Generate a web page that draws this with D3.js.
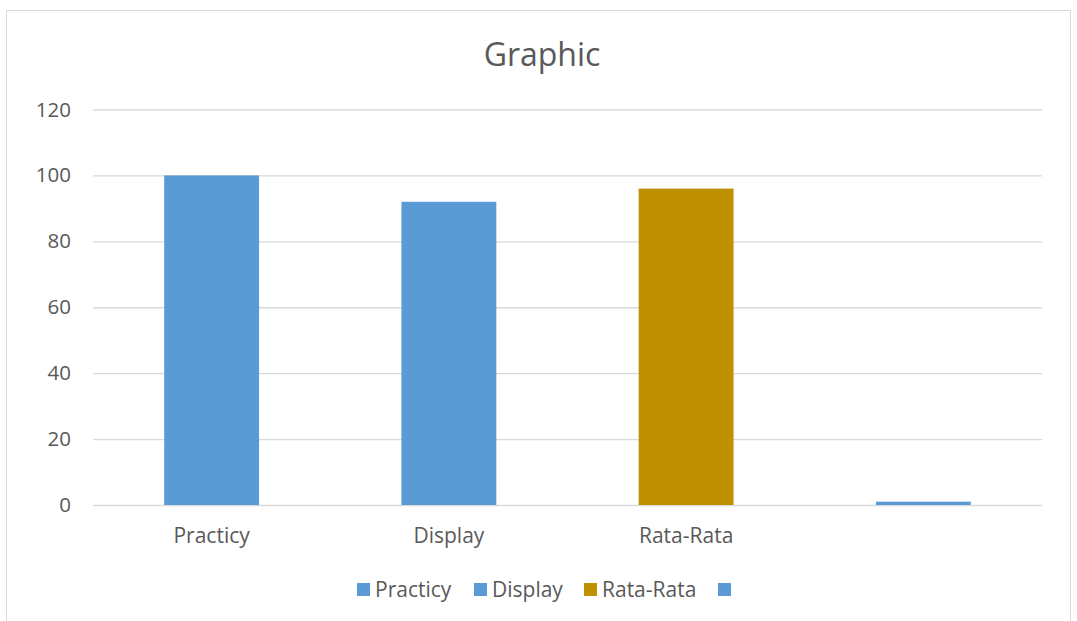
<!DOCTYPE html>
<html>
<head>
<meta charset="utf-8">
<script src="https://cdn.jsdelivr.net/npm/d3@7"></script>
<style>
  html, body { margin: 0; padding: 0; background: #fff; }
  svg { display: block; font-family: "Open Sans", "Noto Sans", sans-serif; }
</style>
</head>
<body>
<svg id="chart" width="1077" height="621"></svg>
<script>
// Chart data
const categories = ["Practicy", "Display", "Rata-Rata", ""];
const values = [100, 92, 96, 1];
const barColors = ["#5B9BD5", "#5B9BD5", "#BF9000", "#5B9BD5"];
const yTicks = [0, 20, 40, 60, 80, 100, 120];
const chartTitle = "Graphic";

const margin = { left: 93, right: 35, top: 109, bottom: 116 };
const svg = d3.select("#chart");
const textColor = "#595959";

// Chart-area frame
svg.append("rect")
  .attr("x", 6.5).attr("y", 10.5)
  .attr("width", 1064).attr("height", 620)
  .attr("fill", "#fff").attr("stroke", "#d9d9d9").attr("stroke-width", 1);

const x = d3.scaleBand()
  .domain(d3.range(categories.length))
  .range([margin.left, 1042])
  .paddingInner(0.6).paddingOuter(0.3);

const y = d3.scaleLinear().domain([0, 120]).range([505, 109.5]);

// Title
svg.append("text")
  .attr("x", 542).attr("y", 66)
  .attr("text-anchor", "middle")
  .attr("fill", textColor)
  .attr("font-size", 32)
  .text(chartTitle);

// Gridlines + y labels
const yAxis = d3.axisLeft(y).tickValues(yTicks).tickSize(-(1042 - margin.left)).tickPadding(22);
const gy = svg.append("g").attr("transform", `translate(${margin.left},0)`).call(yAxis);
gy.select(".domain").remove();
gy.selectAll(".tick line").attr("stroke", "#d9d9d9").attr("stroke-width", 1.3);
gy.selectAll(".tick text").attr("fill", textColor).attr("font-size", 20.5).attr("font-family", "Open Sans");

// Bars
svg.append("g").selectAll("rect")
  .data(values)
  .join("rect")
  .attr("x", (d, i) => x(i))
  .attr("width", x.bandwidth())
  .attr("y", d => y(d))
  .attr("height", d => y(0) - y(d))
  .attr("fill", (d, i) => barColors[i]);

// X category labels
const xAxis = d3.axisBottom(x).tickFormat(i => categories[i]).tickSize(0).tickPadding(23);
const gx = svg.append("g").attr("transform", `translate(0,${y(0)})`).call(xAxis);
gx.select(".domain").remove();
gx.selectAll(".tick text").attr("fill", textColor).attr("font-size", 21).attr("font-family", "Open Sans");

// Legend
const legendX = [357, 474, 584, 718];
const lg = svg.append("g").selectAll("g")
  .data(categories)
  .join("g")
  .attr("transform", (d, i) => `translate(${legendX[i]},583)`);
lg.append("rect").attr("width", 13).attr("height", 13).attr("fill", (d, i) => barColors[i]);
lg.append("text")
  .attr("x", 18).attr("y", 14)
  .attr("fill", textColor).attr("font-size", 21)
  .text(d => d);
</script>
</body>
</html>
